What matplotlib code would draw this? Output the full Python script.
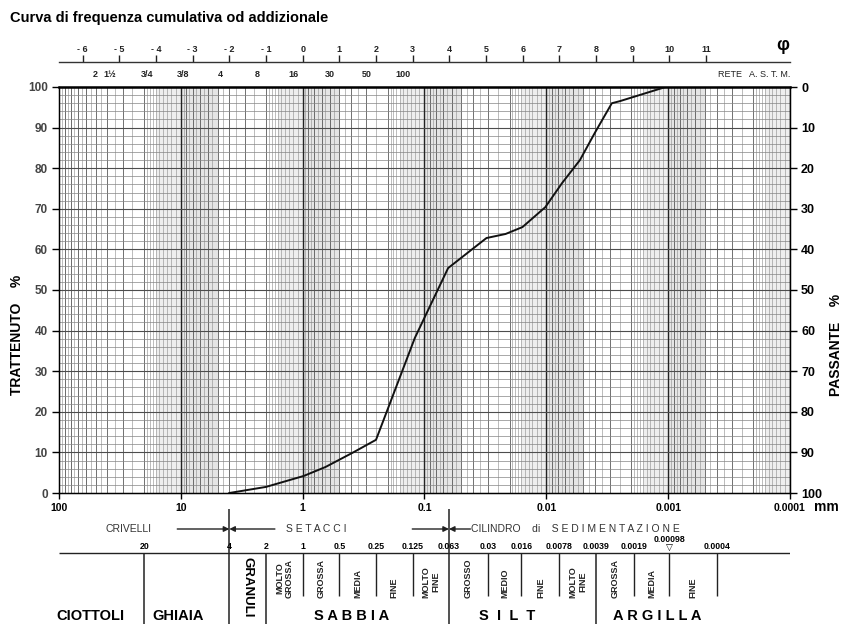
import numpy as np
import matplotlib
matplotlib.use("Agg")
import matplotlib.pyplot as plt
from matplotlib.ticker import NullLocator

plt.rcParams['font.family'] = ['Liberation Sans', 'DejaVu Sans']

# curva granulometrica: diametro (mm) e trattenuto cumulativo (%)
diametro = [4.0, 2.0, 0.98, 0.65, 0.39, 0.25, 0.12, 0.064, 0.031, 0.0216,
            0.0157, 0.0102, 0.0074, 0.0053, 0.0040, 0.0029, 0.0025, 0.00105]
trattenuto = [0, 1.5, 4.2, 6.4, 9.9, 13.1, 38.2, 55.4, 62.8, 63.8,
              65.5, 70.4, 76.4, 82.0, 88.7, 96.0, 96.5, 100]

# scala phi in alto
phi = list(range(-6, 12))

# setacci ASTM
astm_label = ['2', '1½', '3/4', '3/8', '4', '8', '16', '30', '50', '100']
astm_mm = [50.8, 38.1, 19.0, 9.5, 4.75, 2.36, 1.18, 0.60, 0.30, 0.15]

# limiti delle classi granulometriche (mm)
limiti = [20, 4, 2, 1, 0.5, 0.25, 0.125, 0.063, 0.03, 0.016, 0.0078,
          0.0039, 0.0019, 0.00098, 0.0004]
limiti_label = ['20', '4', '2', '1', '0.5', '0.25', '0.125', '0.063', '0.03',
                '0.016', '0.0078', '0.0039', '0.0019', '0.00098', '0.0004']
limiti_principali = [20, 4, 2, 0.063, 0.0039]

sottoclassi = ['MOLTO\nGROSSA', 'GROSSA', 'MEDIA', 'FINE', 'MOLTO\nFINE',
               'GROSSO', 'MEDIO', 'FINE', 'MOLTO\nFINE',
               'GROSSA', 'MEDIA', 'FINE']
classi = ['CIOTTOLI', 'GHIAIA', 'S A B B I A', 'S  I  L  T', 'A R G I L L A']

xticks = [100, 10, 1, 0.1, 0.01, 0.001, 0.0001]
xtick_label = ['100', '10', '1', '0.1', '0.01', '0.001', '0.0001']

W, H = 845, 624
fig = plt.figure(figsize=(W / 100, H / 100), dpi=100)
L, R, T, B = 59, 790, 87, 493
ax = fig.add_axes([L / W, 1 - B / H, (R - L) / W, (B - T) / H])
ax.set_xscale('log')
ax.set_xlim(100, 0.0001)
ax.set_ylim(0, 100)

# carta logaritmica
decadi = 10.0 ** np.arange(-4, 2)
passi = list(np.arange(1.1, 2.0, 0.1)) + [2.5, 3.5, 4.5] + list(np.arange(5.5, 10, 0.5))
fini = [m * d for d in decadi for m in passi]
medie = [m * d for d in decadi for m in range(2, 10)]
for d in decadi:
    ax.axvspan(d, d * 0.5, color='#d4d4d4', alpha=0.6, lw=0, zorder=0)
    ax.axvspan(d * 1.6, d, color='#e4e4e4', alpha=0.6, lw=0, zorder=0)
ax.vlines(fini, 0, 100, color='#969696', lw=0.45, zorder=1)
ax.vlines(medie, 0, 100, color='#666666', lw=0.65, zorder=1)
ax.vlines(decadi, 0, 100, color='#222222', lw=1.0, zorder=2)
ax.hlines(np.arange(2, 100, 2), 100, 0.0001, color='#858585', lw=0.5, zorder=1)
ax.hlines(np.arange(10, 100, 10), 100, 0.0001, color='#4d4d4d', lw=0.8, zorder=2)

ax.plot(diametro, trattenuto, color='#111111', lw=1.4, zorder=5)

for s in ['left', 'right', 'bottom']:
    ax.spines[s].set_linewidth(1.0)
ax.spines['top'].set_linewidth(1.8)

ax.xaxis.set_minor_locator(NullLocator())
ax.set_xticks(xticks, labels=xtick_label)
ax.tick_params(axis='x', length=4, width=1, pad=3, labelsize=7.5)
for t in ax.get_xticklabels():
    t.set_fontweight('bold')
ax.set_yticks(range(0, 101, 10))
ax.tick_params(axis='y', length=5, width=1, pad=3, labelsize=8.5, labelcolor='#444444')
for t in ax.get_yticklabels():
    t.set_fontweight('bold')

ax2 = ax.twinx()
ax2.set_ylim(100, 0)
ax2.set_yticks(range(0, 101, 10))
ax2.tick_params(axis='y', length=5, width=1, pad=3, labelsize=9)
for t in ax2.get_yticklabels():
    t.set_fontweight('bold')

# asse phi: d = 2^-phi
axp = fig.add_axes([L / W, 1 - 62 / H, (R - L) / W, 0.0001])
axp.set_xscale('log')
axp.set_xlim(100, 0.0001)
axp.set_yticks([])
for s in ['left', 'right', 'bottom']:
    axp.spines[s].set_visible(False)
axp.spines['top'].set_linewidth(1.0)
axp.spines['top'].set_color('#333333')
axp.patch.set_visible(False)
axp.xaxis.tick_top()
axp.set_xticks(2.0 ** (-np.array(phi, dtype=float)),
               labels=[f'- {abs(p)}' if p < 0 else str(p) for p in phi])
axp.xaxis.set_minor_locator(NullLocator())
axp.tick_params(axis='x', length=5, width=1, pad=1, labelsize=6.5, colors='#222222')
for t in axp.get_xticklabels():
    t.set_fontweight('bold')
fig.text(783 / W, 1 - 45 / H, 'φ', fontsize=13, fontweight='bold', ha='center', va='center')

ytr = ax.get_xaxis_transform()
for lab, d in zip(astm_label, astm_mm):
    ax.text(d, 1.0296, lab, transform=ytr, ha='center', va='center',
            fontsize=6.5, fontweight='bold', color='#222222')
ax.text(1.0, 1.0296, 'RETE   A. S. T. M.', transform=ax.transAxes, ha='right',
        va='center', fontsize=6.5, color='#222222')

fig.text(10 / W, 1 - 18 / H, 'Curva di frequenza cumulativa od addizionale',
         fontsize=10.5, fontweight='bold', va='center', ha='left')
fig.text(17 / W, 1 - 335 / H, 'TRATTENUTO    %', rotation=90, ha='center',
         va='center', fontsize=10, fontweight='bold')
fig.text(836 / W, 1 - 345 / H, 'PASSANTE    %', rotation=90, ha='center',
         va='center', fontsize=10, fontweight='bold')
fig.text(826 / W, 1 - 507 / H, 'mm', fontsize=10, fontweight='bold',
         ha='center', va='center')

# schema delle classi sotto il grafico (coordinate y in pixel dall'alto)
axb = fig.add_axes([L / W, 0, (R - L) / W, (H - B) / H], sharex=ax)
axb.set_ylim(H, B)
axb.axis('off')
axb.patch.set_visible(False)

axb.hlines(553, 100, 0.0001, color='#222222', lw=1.0)
for d in limiti:
    if d in (4, 0.063):
        axb.vlines(d, 509, H, color='#222222', lw=1.1)
    elif d in limiti_principali:
        axb.vlines(d, 553, H, color='#222222', lw=1.1)
    else:
        axb.vlines(d, 553, 596, color='#222222', lw=1.0)

for d, lab in zip(limiti, limiti_label):
    if lab == '0.00098':
        axb.text(d, 540, lab, ha='center', va='center', fontsize=6.3, fontweight='bold')
        axb.text(d, 548, '▽', ha='center', va='center', fontsize=6.5)
    else:
        axb.text(d, 551, lab, ha='center', va='bottom', fontsize=6.3, fontweight='bold')

axb.text(np.sqrt(4 * 2), 587, 'GRANULI', rotation=-90, ha='center', va='center',
         fontsize=9.5, fontweight='bold')
for lab, a, b in zip(sottoclassi, limiti[2:-1], limiti[3:]):
    axb.text(np.sqrt(a * b), 598, lab, rotation=90, ha='center', va='bottom',
             fontsize=6.5, fontweight='bold', linespacing=1.1, color='#222222')

for lab, d in zip(classi, [55, 10.5, 0.40, 0.021, 0.00123]):
    axb.text(d, 616, lab, ha='center', va='center', fontsize=10.5, fontweight='bold')

# crivelli / setacci / cilindro
fr = dict(arrowstyle='-|>', color='#222222', lw=1.0, shrinkA=0, shrinkB=0, mutation_scale=8)
axb.annotate('', xy=(4, 529), xytext=(10.7, 529), arrowprops=fr)
axb.annotate('', xy=(4, 529), xytext=(1.69, 529), arrowprops=fr)
axb.annotate('', xy=(0.063, 529), xytext=(0.126, 529), arrowprops=fr)
axb.annotate('', xy=(0.063, 529), xytext=(0.042, 529), arrowprops=fr)
axb.text(27, 529, 'CRIVELLI', ha='center', va='center', fontsize=7.5, color='#333333')
axb.text(0.78, 529, 'S E T A C C I', ha='center', va='center', fontsize=7.5, color='#333333')
axb.text(0.0415, 529, 'CILINDRO    di    S E D I M E N T A Z I O N E', ha='left',
         va='center', fontsize=7.5, color='#333333')

fig.savefig('out.png', dpi=100)
